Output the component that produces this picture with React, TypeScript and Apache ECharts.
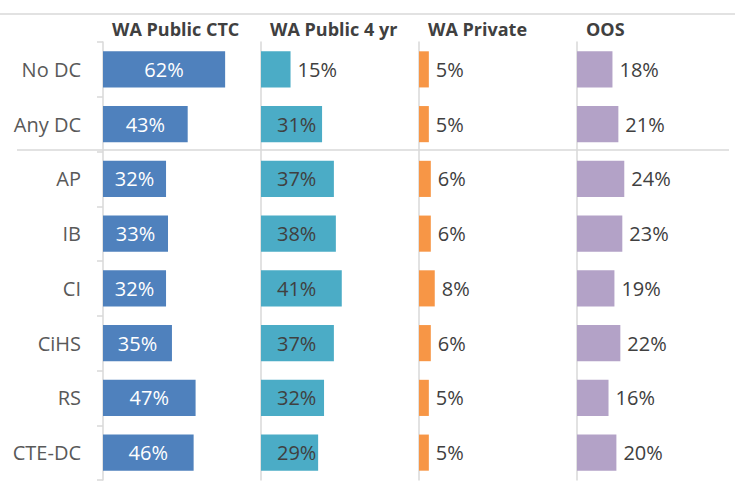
import React, { useEffect, useRef } from "react";
import * as echarts from "echarts";

const categories = ["No DC", "Any DC", "AP", "IB", "CI", "CiHS", "RS", "CTE-DC"];
const panelTitles = ["WA Public CTC", "WA Public 4 yr", "WA Private", "OOS"];
const waPublicCTC = [62, 43, 32, 33, 32, 35, 47, 46];
const waPublic4yr = [15, 31, 37, 38, 41, 37, 32, 29];
const waPrivate = [5, 5, 6, 6, 8, 6, 5, 5];
const oos = [18, 21, 24, 23, 19, 22, 16, 20];
const colors = ["#4F81BD", "#4BACC6", "#F79646", "#B3A2C7"];

const FONT = "'Open Sans', sans-serif";
const TEXT = "#404040";
const LINE = "#d9d9d9";

export default function App() {
  const ref = useRef<HTMLDivElement>(null);
  useEffect(() => {
    if (!ref.current) return;
    const chart = echarts.init(ref.current, null, { renderer: "svg" });
    const seriesData = [waPublicCTC, waPublic4yr, waPrivate, oos];
    const lefts = [103, 261, 419, 577];
    const panelW = 157.6;
    const grids = lefts.map((l) => ({ left: l, top: 42, bottom: 7, width: panelW, containLabel: false }));
    const xAxes = lefts.map((_, i) => ({
      type: "value", gridIndex: i, min: 0, max: 80, show: false,
    }));
    const yAxes = lefts.map((_, i) => ({
      type: "category", gridIndex: i, data: categories, inverse: true, offset: 1,
      axisLine: { show: true, lineStyle: { color: LINE, width: 1.5 } },
      axisTick: { show: i === 0, length: 6, lineStyle: { color: LINE, width: 1.5 } },
      axisLabel: {
        show: i === 0, margin: 21, color: "#595959", fontFamily: FONT, fontSize: 20,
      },
      splitLine: { show: false },
    }));
    const series = seriesData.map((vals, i) => {
      let label: any;
      if (i === 0) {
        label = { show: true, position: "inside", color: "#fff", fontFamily: FONT, fontSize: 20, formatter: "{c}%" };
      } else if (i === 1) {
        label = { show: true, position: "insideLeft", distance: 16, color: TEXT, fontFamily: FONT, fontSize: 20, formatter: "{c}%" };
      } else {
        label = { show: true, position: "right", distance: 7, color: TEXT, fontFamily: FONT, fontSize: 20, formatter: "{c}%" };
      }
      const data = vals.map((v) => {
        if (i === 1 && v < 25) {
          return { value: v, label: { position: "right", distance: 7 } };
        }
        return v;
      });
      return {
        type: "bar", xAxisIndex: i, yAxisIndex: i, data, barCategoryGap: "34%",
        itemStyle: { color: colors[i] }, label, z: 3,
      };
    });
    const graphic: any[] = [
      { type: "line", shape: { x1: 0, y1: 14, x2: 735, y2: 14 }, style: { stroke: LINE, lineWidth: 1.5 }, silent: true },
      { type: "line", shape: { x1: 17, y1: 150, x2: 729, y2: 150 }, style: { stroke: LINE, lineWidth: 1.5 }, silent: true },
    ];
    panelTitles.forEach((t, i) => {
      graphic.push({
        type: "text",
        x: lefts[i] + 9,
        y: 29,
        style: { text: t, font: `bold 18px ${FONT}`, fill: TEXT, verticalAlign: "middle", align: "left" },
        silent: true,
      });
    });
    chart.setOption({
      animation: false,
      grid: grids,
      xAxis: xAxes,
      yAxis: yAxes,
      series,
      graphic,
    });
    return () => chart.dispose();
  }, []);
  return <div ref={ref} style={{ width: 735, height: 487, position: "absolute", left: 0, top: 0, background: "#fff" }} />;
}
